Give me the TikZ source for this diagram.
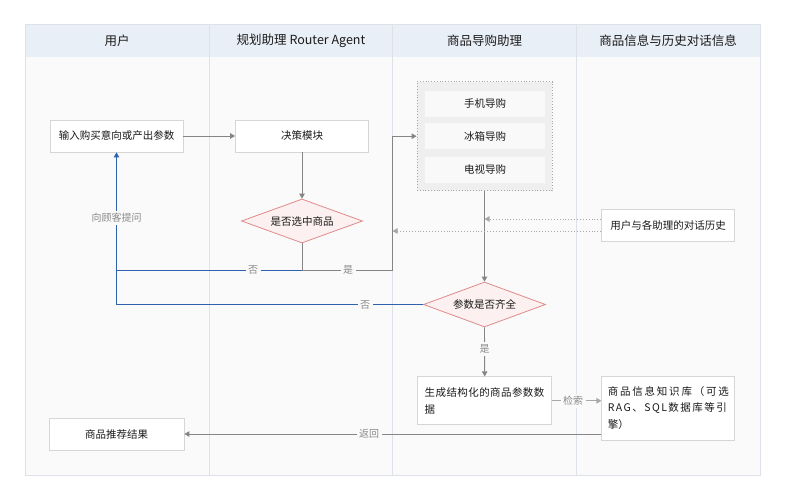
\documentclass[tikz,border=0pt]{standalone}
\usepackage{fontspec}
\setmainfont{Noto Sans CJK SC}
\usetikzlibrary{arrows.meta,shapes.geometric}
\definecolor{lanebg}{HTML}{FAFAFA}
\definecolor{headbg}{HTML}{E9EFF7}
\definecolor{frameln}{HTML}{DDE2E8}
\definecolor{boxln}{HTML}{D6D6D6}
\definecolor{grayln}{HTML}{858585}
\definecolor{lgrayln}{HTML}{A8A8A8}
\definecolor{blueln}{HTML}{2F62AE}
\definecolor{dmdln}{HTML}{E08A8A}
\definecolor{dmdbg}{HTML}{FCF0F0}
\definecolor{contbg}{HTML}{EFEFEF}
\definecolor{txt}{HTML}{1A1A1A}
\definecolor{lbltxt}{HTML}{8A8A8A}
\newfontfamily\widecjk[LetterSpace=17]{Noto Sans CJK SC}
\tikzset{
  headtxt/.style={font=\fontsize{12.5}{15}\selectfont, text=txt},
  box/.style={draw=boxln, fill=white, line width=0.8pt, minimum width=133pt, minimum height=32pt,
    inner sep=0pt, font=\fontsize{10.5}{16.5}\selectfont, text=txt},
  subbox/.style={fill=white!60!contbg, minimum width=120pt, minimum height=26pt, inner sep=0pt,
    font=\fontsize{10.5}{16.5}\selectfont, text=txt},
  cont/.style={draw=lgrayln, dotted, fill=contbg, line width=0.8pt, minimum width=135pt, minimum height=109pt, inner sep=0pt},
  dmd/.style={diamond, aspect=2.75, draw=dmdln, fill=dmdbg, line width=0.8pt, inner sep=0pt,
    font=\fontsize{10.5}{13}\selectfont, text=txt},
  gline/.style={draw=grayln, line width=0.9pt},
  lgline/.style={draw=lgrayln, line width=0.9pt},
  bline/.style={draw=blueln, line width=1pt},
  dline/.style={draw=lgrayln, line width=0.9pt, dotted},
  arr/.style={-{Triangle[length=5pt,width=5.5pt]}},
  lbl/.style={fill=lanebg, inner sep=2.5pt, text=lbltxt, font=\fontsize{10}{12}\selectfont}
}
\begin{document}
\begin{tikzpicture}[x=1pt,y=-1pt]
\useasboundingbox (0,0) rectangle (785,500);
\fill[white] (0,0) rectangle (785,500);
% swimlane frame
\fill[lanebg] (25,24) rectangle (760,475);
\fill[headbg] (25,24) rectangle (760,57);
\draw[frameln, line width=0.8pt] (209,24) -- (209,475);
\draw[frameln, line width=0.8pt] (392.5,24) -- (392.5,475);
\draw[frameln, line width=0.8pt] (576,24) -- (576,475);
\draw[frameln, line width=0.8pt] (25,24) rectangle (760,475);
\node[headtxt] (h1) at (117,41) {用户};
\node[headtxt] (h2) at (301,41) {规划助理 Router Agent};
\node[headtxt] (h3) at (484.5,41) {商品导购助理};
\node[headtxt] (h4) at (668,41) {商品信息与历史对话信息};

% nodes
\node[box] (input) at (116.5,136) {输入购买意向或产出参数};
\node[box] (decision) at (302,136) {决策模块};
\node[dmd, minimum width=121pt, minimum height=44pt] (d1) at (302,221) {是否选中商品};
\node[cont] (container) at (484.5,136.2) {};
\node[subbox] (s1) at (485,103.7) {手机导购};
\node[subbox] (s2) at (485,136.5) {冰箱导购};
\node[subbox] (s3) at (485,169.7) {电视导购};
\node[box] (hist) at (668,225) {用户与各助理的对话历史};
\node[dmd, minimum width=122pt, minimum height=45pt] (d2) at (484.5,304.5) {参数是否齐全};
\node[box, minimum width=134pt, minimum height=48pt, text width=120pt, align=left] (gen) at (484.7,400.8)
  {{\addfontfeature{LetterSpace=4}生成结构化的商品参数数}\\据};
\node[box, minimum width=133pt, minimum height=64pt, text width=121pt, align=left] (kb) at (668.3,408)
  {{\widecjk 商品信息知识库（可选}\\{\addfontfeature{LetterSpace=14}RAG、SQL数据库等引}\\擎）};
\node[box, minimum width=135pt] (result) at (116.5,434) {商品推荐结果};

% connectors
\coordinate (j1) at (302,270);
\coordinate (j2) at (116.5,270);
\coordinate (j3) at (116.5,304.5);
\coordinate (j4) at (392.5,270);
\draw[gline,arr] (input) -- (decision);
\draw[gline,arr] (decision) -- (d1);
\draw[gline] (d1.south) -- (j1);
\draw[bline] (j1) -- (j2);
\draw[bline,arr] (d2.west) -- (j3) -- (input.south);
\draw[gline,arr] (j1) -- (j4) |- (container.west);
\draw[gline,arr] (container.south) -- (d2.north);
\draw[dline,arr] ([yshift=6pt]hist.west) -- ([yshift=6pt]hist.west -| d2.north);
\draw[dline,arr] ([yshift=-6pt]hist.west) -- ([yshift=-6pt]hist.west -| j4);
\draw[gline,arr] (d2.south) -- (gen.north);
\draw[lgline,arr] (gen.east) -- (kb.west |- gen.east);
\draw[gline,arr] (kb.west |- result.east) -- (result.east);

% labels
\node[lbl] (l1) at (253,270) {否};
\node[lbl] (l2) at (348,270) {是};
\node[lbl] (l3) at (365,304.5) {否};
\node[lbl] (l4) at (116.5,218) {向顾客提问};
\node[lbl] (l5) at (484.5,349) {是};
\node[lbl] (l6) at (573,401) {检索};
\node[lbl] (l7) at (369,434) {返回};
\end{tikzpicture}
\end{document}
